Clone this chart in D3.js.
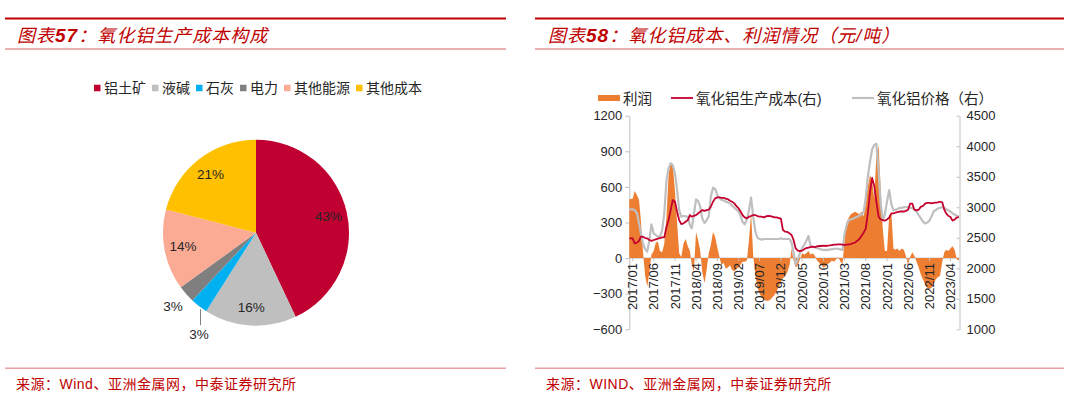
<!DOCTYPE html>
<html><head><meta charset="utf-8">
<script src="https://cdn.jsdelivr.net/npm/d3@7"></script>
<style>
html,body{margin:0;padding:0;background:#fff;}
svg{display:block;}
text{font-family:"Liberation Sans","Noto Sans CJK SC",sans-serif;}
</style></head><body>
<svg id="c" width="1080" height="398"></svg>
<script>
// ---------- DATA ----------
const pieTitle = ["图表", "57", "：氧化铝生产成本构成"];
const pieCategories = ["铝土矿","液碱","石灰","电力","其他能源","其他成本"];
const pieValues = [43,16,3,3,14,21];
const pieColors = ["#BF0031","#BFBFBF","#00B0F0","#7F7F7F","#FBAA93","#FFC000"];

const lineTitle = ["图表", "58", "：氧化铝成本、利润情况（元/吨）"];
const seriesNames = ["利润","氧化铝生产成本(右)","氧化铝价格（右）"];
const seriesColors = ["#ED7D31","#C4002F","#BFBFBF"];
const sourceLeft = "来源：Wind、亚洲金属网，中泰证券研究所";
const sourceRight = "来源：WIND、亚洲金属网，中泰证券研究所";

// semi-monthly observations: first point, then 1st & 16th of each month from 2017-01
const firstDate = "2016-12-08";
const seriesStart = "2017-01-01";
const profit = [495,
  500,565,530,490,320,60,-150,-240,-120,30,60,130,140,60,50,120,350,700,810,790,560,300,40,10,
  120,160,100,60,-50,-120,220,150,60,-120,-210,-100,40,110,220,180,90,10,-60,-40,-90,-80,-60,-100,
  -110,-90,-80,-50,-30,-30,-20,150,380,30,-150,-250,-300,-330,-350,-360,-360,-350,-330,-310,-280,-240,-200,-170,
  -150,-120,-60,80,-20,-80,-60,-10,40,30,40,60,30,40,20,-20,-40,-60,-80,-70,-50,-40,-20,-30,
  -10,10,-30,-50,150,300,340,370,380,390,380,370,390,350,450,600,700,650,500,850,950,600,250,60,
  60,350,380,80,70,80,60,80,70,20,-60,10,50,20,-30,-80,-140,-180,-220,-250,-260,-250,-220,-180,
  -160,-150,-30,50,70,60,80,100,70,-10,-20];
const cost = [2490,
  2490,2408,2420,2450,2517,2517,2495,2490,2463,2450,2463,2474,2485,2495,2506,2506,2680,2790,2954,3118,3090,2927,2790,2725,
  2735,2763,2790,2872,2845,2860,2870,2900,2927,2954,2940,2954,2960,3008,3090,3145,3161,3161,3155,3155,3140,3130,3107,3090,
  3063,3019,2981,2927,2872,2834,2817,2845,2856,2870,2870,2856,2845,2845,2834,2850,2860,2856,2845,2834,2834,2823,2812,2626,
  2600,2595,2572,2545,2463,2326,2288,2283,2288,2310,2332,2337,2348,2354,2348,2359,2365,2365,2370,2365,2370,2375,2381,2386,
  2386,2392,2392,2386,2381,2386,2392,2397,2410,2420,2450,2480,2530,2580,2650,2900,3250,3480,3350,3100,2850,2800,2790,2780,
  2800,2830,2900,2900,2910,2920,2930,2930,2930,2940,2960,3060,3060,2960,2950,2960,3010,3020,3060,3070,3070,3065,3070,3075,
  3080,3090,3080,2960,2900,2860,2840,2780,2800,2830,2840];
const price = [2965,
  2965,2954,2900,2736,2572,2408,2310,2272,2463,2720,2572,2545,2517,2520,2626,2900,3445,3636,3718,3690,3554,3281,2954,2845,
  2860,2850,2845,2708,2654,2870,3130,3100,3008,2817,2740,2790,2850,3172,3320,3300,3200,3150,3120,3110,3090,3080,3060,3030,
  2990,2960,2930,2850,2760,2720,2800,2950,3160,2850,2600,2500,2480,2470,2480,2480,2480,2480,2480,2480,2480,2480,2490,2480,
  2480,2480,2480,2420,2250,2060,2150,2250,2330,2380,2450,2530,2370,2350,2340,2330,2320,2310,2300,2300,2300,2310,2310,2320,
  2320,2320,2310,2300,2550,2700,2790,2800,2810,2830,2845,2860,2880,2920,3150,3500,3750,3950,4020,4040,3600,3070,2790,2880,
  3100,3280,3050,2950,2960,2970,2990,2990,3000,3000,3000,2990,2990,2960,2927,2870,2817,2763,2736,2745,2780,2850,2927,2954,
  2980,2990,3000,2990,2970,2950,2930,2900,2880,2860,2850];
const xDomain = ["2016-12-08","2023-06-05"];
const xTickLabels = ["2017/01","2017/06","2017/11","2018/04","2018/09","2019/02","2019/07","2019/12",
  "2020/05","2020/10","2021/03","2021/08","2022/01","2022/06","2022/11","2023/04"];
const leftTicks = [-600,-300,0,300,600,900,1200];
const rightTicks = [1000,1500,2000,2500,3000,3500,4000,4500];

// ---------- LAYOUT ----------
const svg = d3.select("#c");
const RED = "#C00000";
const panels = [{x0:5,x1:506,tx:17,fx:16,title:pieTitle,src:sourceLeft},
                {x0:535,x1:1064,tx:548,fx:546,title:lineTitle,src:sourceRight}];
panels.forEach(p=>{
  svg.append("line").attr("x1",p.x0).attr("x2",p.x1).attr("y1",18.5).attr("y2",18.5)
     .attr("stroke",RED).attr("stroke-width",2);
  svg.append("line").attr("x1",p.x0).attr("x2",p.x1).attr("y1",49).attr("y2",49)
     .attr("stroke","#D26464").attr("stroke-width",1);
  const t = svg.append("text").attr("x",p.tx).attr("y",41.5).attr("fill",RED)
     .attr("font-size",18).attr("font-style","italic").style("letter-spacing","1px");
  t.append("tspan").text(p.title[0]);
  t.append("tspan").attr("font-weight","bold").attr("font-size",19).text(p.title[1]);
  t.append("tspan").text(p.title[2]);
  svg.append("line").attr("x1",p.x0).attr("x2",p.x1).attr("y1",368.3).attr("y2",368.3)
     .attr("stroke","#E8A0A0").attr("stroke-width",1.6);
  svg.append("text").attr("x",p.fx).attr("y",389.3).attr("fill",RED)
     .attr("font-size",14).style("letter-spacing","0.5px").text(p.src);
});

// ---------- PIE ----------
const cx = 256, cy = 232.7, R = 93;
const pieG = svg.append("g").attr("transform",`translate(${cx},${cy})`);
const arcs = d3.pie().sort(null).value(d=>d)(pieValues);
const arc = d3.arc().innerRadius(0).outerRadius(R);
pieG.selectAll("path.s").data(arcs).join("path").attr("class","s")
  .attr("d",arc).attr("fill",(d,i)=>pieColors[i]);
const labelArc = d3.arc().innerRadius(R*0.8).outerRadius(R*0.8);
const outArc = d3.arc().innerRadius(R*1.19).outerRadius(R*1.19);
const edgeArc = d3.arc().innerRadius(R).outerRadius(R);
let smallCount = 0;
arcs.forEach((d,i)=>{
  const txt = d.data + "%";
  let pos;
  if (d.data >= 5) {
    pos = labelArc.centroid(d);
  } else if (smallCount++ === 0) {
    const e = edgeArc.centroid(d);
    pieG.append("line").attr("x1",e[0]+1.5).attr("x2",e[0]+1.5).attr("y1",e[1]+3).attr("y2",e[1]+19)
      .attr("stroke","#808080").attr("stroke-width",1);
    pos = [e[0], e[1]+28];
  } else {
    pos = outArc.centroid(d);
  }
  pieG.append("text").attr("x",pos[0]).attr("y",pos[1]).attr("dy","0.35em")
    .attr("text-anchor","middle").attr("font-size",13.5).attr("fill","#262626").text(txt);
});
// pie legend
const lg = svg.append("g");
let lx = 0;
pieCategories.forEach((c,i)=>{
  const g = lg.append("g").attr("transform",`translate(${lx},0)`);
  g.append("rect").attr("x",0).attr("y",-3.25).attr("width",6.5).attr("height",6.5).attr("fill",pieColors[i]);
  const t = g.append("text").attr("x",10).attr("y",0).attr("dy","0.38em").attr("font-size",14)
    .attr("fill","#262626").text(c);
  lx += 10 + t.node().getComputedTextLength() + 6;
});
lx -= 6;
lg.attr("transform",`translate(${258 - lx/2},88)`);

// ---------- LINE / AREA CHART ----------
const parse = d3.utcParse("%Y-%m-%d");
const s0 = parse(seriesStart);
const dates = profit.map((_,i)=> i===0 ? parse(firstDate)
  : d3.utcDay.offset(d3.utcMonth.offset(s0, Math.floor((i-1)/2)), (i-1)%2 ? 15 : 0));
const xL = 629.3, xR = 959.5, yT = 115.7, yB = 329.3;
const x = d3.scaleUtc().domain(xDomain.map(parse)).range([xL,xR]);
const y = d3.scaleLinear().domain([-600,1200]).range([yB,yT]);
const y2 = d3.scaleLinear().domain([1000,4500]).range([yB,yT]);
const AX = "#BFBFBF";
const fmt = d3.format("d");

// axes
const gl = svg.append("g").attr("transform",`translate(${xL},0)`)
  .call(d3.axisLeft(y).tickValues(leftTicks).tickFormat(fmt).tickSizeInner(4).tickSizeOuter(0).tickPadding(3));
const gr = svg.append("g").attr("transform",`translate(${xR},0)`)
  .call(d3.axisRight(y2).tickValues(rightTicks).tickFormat(fmt).tickSizeInner(-3).tickSizeOuter(0).tickPadding(7));
[gl,gr].forEach(g=>{
  g.select(".domain").attr("stroke",AX);
  g.selectAll(".tick line").attr("stroke",AX);
  g.selectAll(".tick text").attr("font-size",13).attr("fill","#262626")
    .attr("font-family","Liberation Sans, Arial, sans-serif");
});
const y0 = y(0);
svg.append("line").attr("x1",xL).attr("x2",xR).attr("y1",y0).attr("y2",y0).attr("stroke",AX);

// profit area
svg.append("path").datum(profit)
  .attr("d", d3.area().x((d,i)=>x(dates[i])).y0(y0).y1(d=>y(d)))
  .attr("fill",seriesColors[0]);
// price line (gray) then cost line (red)
svg.append("path").datum(price)
  .attr("d", d3.line().x((d,i)=>x(dates[i])).y(d=>y2(d)))
  .attr("fill","none").attr("stroke",seriesColors[2]).attr("stroke-width",2.2).attr("stroke-linejoin","round");
svg.append("path").datum(cost)
  .attr("d", d3.line().x((d,i)=>x(dates[i])).y(d=>y2(d)))
  .attr("fill","none").attr("stroke",seriesColors[1]).attr("stroke-width",1.8).attr("stroke-linejoin","round");

// x axis ticks & labels
const tickDates = xTickLabels.map(s=>d3.utcParse("%Y/%m")(s));
const gx = svg.append("g");
tickDates.forEach((d,i)=>{
  const tx = x(d);
  gx.append("line").attr("x1",tx).attr("x2",tx).attr("y1",y0).attr("y2",y0+3).attr("stroke",AX);
  gx.append("text").attr("transform",`translate(${tx},${y0+5}) rotate(-90)`)
    .attr("text-anchor","end").attr("dy","0.35em").attr("font-size",13).attr("fill","#262626")
    .attr("font-family","Liberation Sans, Arial, sans-serif").text(xTickLabels[i]);
});

// legend (right)
const legY = 98;
const legX = [598, 671, 852];
seriesNames.forEach((n,i)=>{
  if (i===0) svg.append("rect").attr("x",legX[i]).attr("y",legY-3).attr("width",22).attr("height",6).attr("fill",seriesColors[0]);
  else svg.append("line").attr("x1",legX[i]).attr("x2",legX[i]+22).attr("y1",legY).attr("y2",legY)
        .attr("stroke",seriesColors[i]).attr("stroke-width",i===1?1.8:2.2);
  svg.append("text").attr("x",legX[i]+25).attr("y",legY).attr("dy","0.38em").attr("font-size",14.5)
    .attr("fill","#262626").text(n);
});
</script>
</body></html>
